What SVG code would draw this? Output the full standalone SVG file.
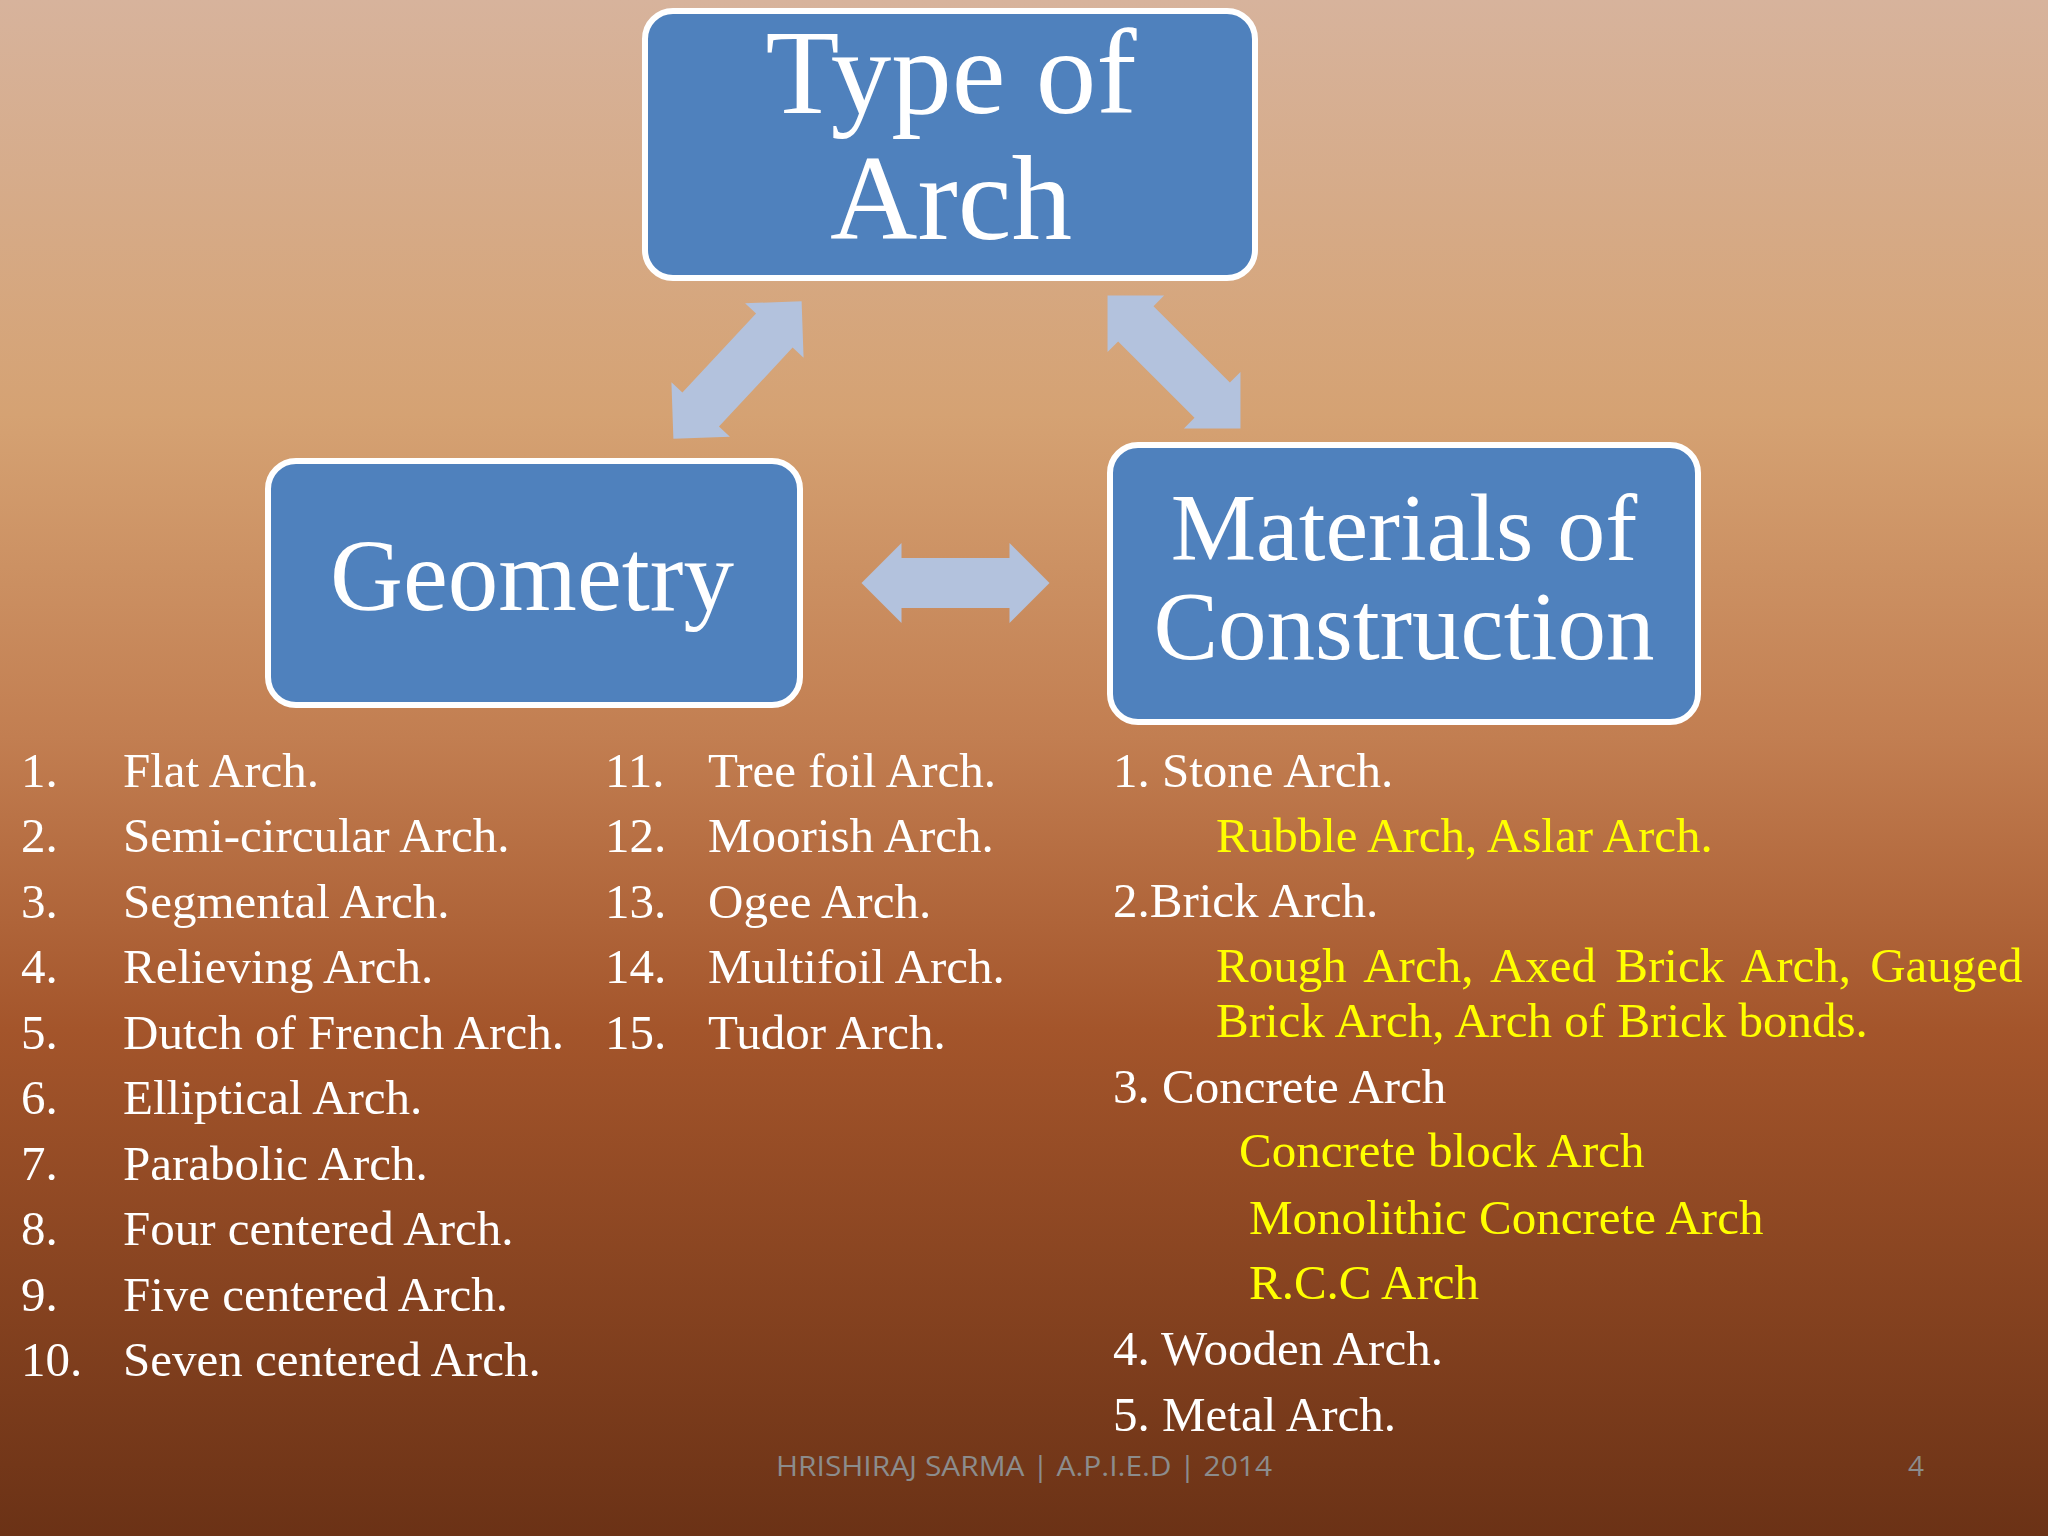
<svg xmlns="http://www.w3.org/2000/svg" xmlns:xlink="http://www.w3.org/1999/xlink" width="2048" height="1536" viewBox="0 0 2048 1536">
<defs>
<linearGradient id="bg" x1="0" y1="0" x2="0" y2="1">
<stop offset="0" stop-color="#d7b39c"/>
<stop offset="0.27" stop-color="#d5a273"/>
<stop offset="0.48" stop-color="#c27e51"/>
<stop offset="0.67" stop-color="#a4552b"/>
<stop offset="1" stop-color="#6b3216"/>
</linearGradient>
<polygon id="dbl" points="-94,0 -54,-40 -54,-25 54,-25 54,-40 94,0 54,40 54,25 -54,25 -54,40"/>
</defs>
<style>
.box{fill:#4f81bd;stroke:#ffffff;stroke-width:6}
.title{font-family:"Liberation Serif",serif;fill:#ffffff;text-anchor:middle}
.li{font-family:"Liberation Serif",serif;font-size:49px;fill:#ffffff}
.y{fill:#ffff00}
.arrow{fill:#b3c2dd}
.foot{font-family:"Open Sans","Liberation Sans",sans-serif;font-size:28px;fill:#8c8c8c}
</style>
<rect x="0" y="0" width="2048" height="1536" fill="url(#bg)"/>
<g id="connectors">
<use xlink:href="#dbl" class="arrow" transform="translate(737.5,370) rotate(-47)"/>
<use xlink:href="#dbl" class="arrow" transform="translate(1174,362) rotate(45)"/>
<use xlink:href="#dbl" class="arrow" transform="translate(955.5,583)"/>
</g>
<g id="node-type">
<rect class="box" x="645" y="11" width="610" height="267" rx="28"/>
<text class="title" x="951" y="113" font-size="121">Type of</text>
<text class="title" x="951" y="239" font-size="121">Arch</text>
</g>
<g id="node-geometry">
<rect class="box" x="268" y="461" width="532" height="244" rx="28"/>
<text class="title" x="532" y="610" font-size="101">Geometry</text>
</g>
<g id="node-materials">
<rect class="box" x="1110" y="445" width="588" height="277" rx="28"/>
<text class="title" x="1404" y="560" font-size="96">Materials of</text>
<text class="title" x="1404" y="659" font-size="97">Construction</text>
</g>
<g id="geometry-list" class="li">
<text x="21" y="787">1.</text><text x="123" y="787">Flat Arch.</text>
<text x="21" y="852">2.</text><text x="123" y="852">Semi-circular Arch.</text>
<text x="21" y="918">3.</text><text x="123" y="918">Segmental Arch.</text>
<text x="21" y="983">4.</text><text x="123" y="983">Relieving Arch.</text>
<text x="21" y="1049">5.</text><text x="123" y="1049">Dutch of French Arch.</text>
<text x="21" y="1114">6.</text><text x="123" y="1114">Elliptical Arch.</text>
<text x="21" y="1180">7.</text><text x="123" y="1180">Parabolic Arch.</text>
<text x="21" y="1245">8.</text><text x="123" y="1245">Four centered Arch.</text>
<text x="21" y="1311">9.</text><text x="123" y="1311">Five centered Arch.</text>
<text x="21" y="1376">10.</text><text x="123" y="1376">Seven centered Arch.</text>
<text x="605" y="787">11.</text><text x="708" y="787">Tree foil Arch.</text>
<text x="605" y="852">12.</text><text x="708" y="852">Moorish Arch.</text>
<text x="605" y="918">13.</text><text x="708" y="918">Ogee Arch.</text>
<text x="605" y="983">14.</text><text x="708" y="983">Multifoil Arch.</text>
<text x="605" y="1049">15.</text><text x="708" y="1049">Tudor Arch.</text>
</g>
<g id="materials-list" class="li">
<text x="1113" y="787">1. Stone Arch.</text>
<text class="y" x="1216" y="852">Rubble Arch, Aslar Arch.</text>
<text x="1113" y="917">2.Brick Arch.</text>
<text class="y" x="1216" y="982" word-spacing="7">Rough Arch, Axed Brick Arch, Gauged</text>
<text class="y" x="1216" y="1037">Brick Arch, Arch of Brick bonds.</text>
<text x="1113" y="1103">3. Concrete Arch</text>
<text class="y" x="1239" y="1167">Concrete block Arch</text>
<text class="y" x="1249" y="1234">Monolithic Concrete Arch</text>
<text class="y" x="1249" y="1299">R.C.C Arch</text>
<text x="1113" y="1365">4. Wooden Arch.</text>
<text x="1113" y="1431">5. Metal Arch.</text>
</g>
<g id="footer" class="foot">
<text x="776" y="1476" textLength="496" lengthAdjust="spacingAndGlyphs">HRISHIRAJ SARMA | A.P.I.E.D | 2014</text>
<text x="1908" y="1476">4</text>
</g>
</svg>
